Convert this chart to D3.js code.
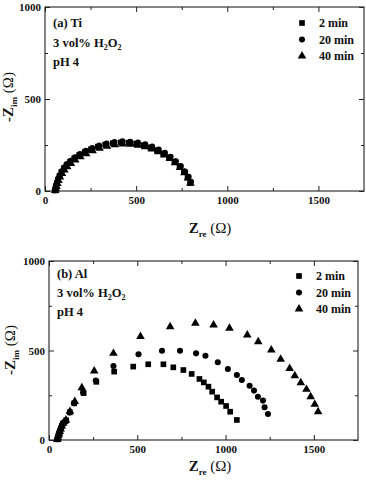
<!DOCTYPE html>
<html>
<head>
<meta charset="utf-8">
<script src="https://cdn.jsdelivr.net/npm/d3@7"></script>
<style>
  body { margin: 0; background: #fff; }
  svg text { font-family: "Liberation Serif", "Times New Roman", serif; fill: #111; }
  .tick-label { font-size: 11px; font-weight: bold; }
  .note { font-size: 12.5px; font-weight: bold; }
  .legend-text { font-size: 12px; font-weight: bold; }
</style>
</head>
<body>
<div id="chart"></div>
<script>
// Axis ticks shared by both panels
const xMajorTicks = [0, 500, 1000, 1500];
const xMinorTicks = [250, 750, 1250];
const yMajorTicks = [0, 500, 1000];
const yMinorTicks = [250, 750];
const seriesLabels = ["2 min", "20 min", "40 min"];

// (a) Ti, [Zre, -Zim] in ohm
const ti2min = [[55,3],[58,14],[62,28],[66,44],[72,62],[80,82],[90,102],[103,122],[118,140],[137,158],[160,177],[187,195],[218,212],[252,227],[290,241],[330,252],[372,260],[415,264],[458,263],[500,258],[540,249],[578,237],[614,222],[648,204],[680,183],[710,160],[738,133],[762,104],[782,74],[796,44]];
const ti20min = [[54,4],[57,16],[61,31],[66,48],[72,66],[80,86],[91,107],[104,127],[120,146],[140,164],[164,183],[192,201],[224,218],[259,233],[297,247],[338,258],[381,266],[425,270],[468,268],[510,263],[550,254],[588,241],[624,225],[658,207],[689,186],[718,162],[745,135],[769,106],[788,77],[801,50]];
const ti40min = [[56,2],[59,12],[63,25],[68,40],[74,57],[82,76],[93,95],[106,114],[122,132],[142,150],[166,168],[194,186],[226,203],[261,218],[299,232],[340,243],[383,251],[426,255],[469,254],[510,249],[549,240],[586,228],[621,213],[654,196],[685,176],[714,153],[741,127],[765,99],[784,70],[798,42]];

// (b) Al, [Zre, -Zim] in ohm
const al2min = [[48,4],[51,14],[54,25],[58,37],[62,50],[67,64],[73,79],[80,93],[97,110],[118,155],[143,205],[196,262],[268,325],[369,382],[477,410],[562,423],[648,423],[704,406],[761,391],[808,369],[852,341],[877,322],[903,298],[924,270],[952,238],[975,214],[1003,190],[1026,158],[1064,112]];
const al20min = [[47,4],[50,14],[53,25],[57,37],[61,50],[66,64],[72,79],[79,93],[95,104],[117,153],[142,205],[193,266],[265,332],[365,413],[507,479],[640,499],[742,499],[833,484],[886,471],[956,434],[1013,397],[1064,363],[1092,335],[1136,303],[1161,276],[1183,242],[1212,220],[1221,183],[1240,145]];
const al40min = [[47,3],[50,12],[53,23],[57,35],[61,48],[66,62],[72,78],[80,94],[96,112],[119,160],[146,215],[186,292],[256,385],[365,484],[518,578],[686,633],[829,652],[932,643],[1022,624],[1123,587],[1185,549],[1259,503],[1312,451],[1363,400],[1392,359],[1426,320],[1458,283],[1482,242],[1505,199],[1524,158]];

const width = 366;
const height = 480;
const symbols = [
  d3.symbol().type(d3.symbolSquare).size(32),
  d3.symbol().type(d3.symbolCircle).size(29),
  d3.symbol().type(d3.symbolTriangle).size(32)
];

const svg = d3.select("#chart").append("svg")
  .attr("width", width)
  .attr("height", height);

function drawPanel(cfg) {
  const { box } = cfg;
  const x = d3.scaleLinear().domain([0, 1750]).range([box.left, box.right]);
  const y = d3.scaleLinear().domain([0, 1000]).range([box.bottom, box.top]);
  const g = svg.append("g");

  // inward ticks on all four sides
  const addAxis = (axis, transform, labels) => {
    const a = g.append("g").attr("transform", transform).call(axis);
    a.select(".domain").remove();
    a.selectAll("line").attr("stroke", "#222");
    a.selectAll("text").attr("class", labels ? "tick-label" : null);
    return a;
  };
  addAxis(d3.axisBottom(x).tickValues(xMajorTicks).tickSizeInner(-5).tickSizeOuter(0).tickPadding(5)
    .tickFormat(d3.format("d")), `translate(0,${box.bottom})`, true);
  addAxis(d3.axisBottom(x).tickValues(xMinorTicks).tickSizeInner(-3).tickSizeOuter(0).tickFormat(""), `translate(0,${box.bottom})`);
  addAxis(d3.axisTop(x).tickValues(xMajorTicks).tickSizeInner(-5).tickSizeOuter(0).tickFormat(""), `translate(0,${box.top})`);
  addAxis(d3.axisTop(x).tickValues(xMinorTicks).tickSizeInner(-3).tickSizeOuter(0).tickFormat(""), `translate(0,${box.top})`);
  addAxis(d3.axisLeft(y).tickValues(yMajorTicks).tickSizeInner(-5).tickSizeOuter(0).tickPadding(4)
    .tickFormat(d3.format("d")), `translate(${box.left},0)`, true);
  addAxis(d3.axisLeft(y).tickValues(yMinorTicks).tickSizeInner(-3).tickSizeOuter(0).tickFormat(""), `translate(${box.left},0)`);
  addAxis(d3.axisRight(y).tickValues(yMajorTicks).tickSizeInner(-5).tickSizeOuter(0).tickFormat(""), `translate(${box.right},0)`);
  addAxis(d3.axisRight(y).tickValues(yMinorTicks).tickSizeInner(-3).tickSizeOuter(0).tickFormat(""), `translate(${box.right},0)`);

  g.append("rect")
    .attr("x", box.left).attr("y", box.top)
    .attr("width", box.right - box.left).attr("height", box.bottom - box.top)
    .attr("fill", "none").attr("stroke", "#222").attr("stroke-width", 1.1);

  // data markers
  cfg.series.forEach((data, i) => {
    g.append("g").selectAll("path")
      .data(data)
      .join("path")
      .attr("d", symbols[i])
      .attr("transform", (d) => `translate(${x(d[0])},${y(d[1])})`)
      .attr("fill", "#000");
  });

  // annotation block
  const note = g.append("g").attr("class", "note");
  note.append("text").attr("x", box.left + 8).attr("y", box.top + cfg.noteY[0]).text(cfg.title);
  const h2o2 = note.append("text").attr("x", box.left + 8).attr("y", box.top + cfg.noteY[1]);
  h2o2.append("tspan").text("3 vol% H");
  h2o2.append("tspan").attr("font-size", 8).attr("dy", 3).text("2");
  h2o2.append("tspan").attr("dy", -3).text("O");
  h2o2.append("tspan").attr("font-size", 8).attr("dy", 3).text("2");
  note.append("text").attr("x", box.left + 8).attr("y", box.top + cfg.noteY[2]).text("pH 4");

  // legend
  seriesLabels.forEach((label, i) => {
    const ly = box.top + cfg.legendY + i * 16.5;
    g.append("path").attr("d", symbols[i]).attr("fill", "#000")
      .attr("transform", `translate(${cfg.legendX},${ly})`);
    g.append("text").attr("class", "legend-text")
      .attr("x", cfg.legendX + 17).attr("y", ly + 4).text(label);
  });

  // axis titles
  const xt = g.append("text")
    .attr("x", cfg.xTitle[0]).attr("y", cfg.xTitle[1])
    .attr("text-anchor", "middle").attr("font-size", 15);
  xt.append("tspan").attr("font-weight", "bold").text("Z");
  xt.append("tspan").attr("font-weight", "bold").attr("font-size", 9).attr("dy", 4).text("re");
  xt.append("tspan").attr("dy", -4).text(" (Ω)");

  const yt = g.append("text")
    .attr("transform", `translate(${cfg.yTitle[0]},${cfg.yTitle[1]}) rotate(-90)`)
    .attr("text-anchor", "middle").attr("font-size", 15);
  yt.append("tspan").attr("font-weight", "bold").text("-Z");
  yt.append("tspan").attr("font-weight", "bold").attr("font-size", 9).attr("dy", 4).text("im");
  yt.append("tspan").attr("dy", -4).text(" (Ω)");
}

drawPanel({
  box: { left: 45, right: 364, top: 7, bottom: 191 },
  title: "(a) Ti",
  noteY: [20, 40, 59],
  legendX: 302,
  legendY: 16,
  series: [ti2min, ti20min, ti40min],
  xTitle: [210, 233],
  yTitle: [13, 97]
});

drawPanel({
  box: { left: 49, right: 358, top: 261, bottom: 440 },
  title: "(b) Al",
  noteY: [17, 36, 55],
  legendX: 299,
  legendY: 15,
  series: [al2min, al20min, al40min],
  xTitle: [210, 471],
  yTitle: [15, 350]
});
</script>
</body>
</html>
